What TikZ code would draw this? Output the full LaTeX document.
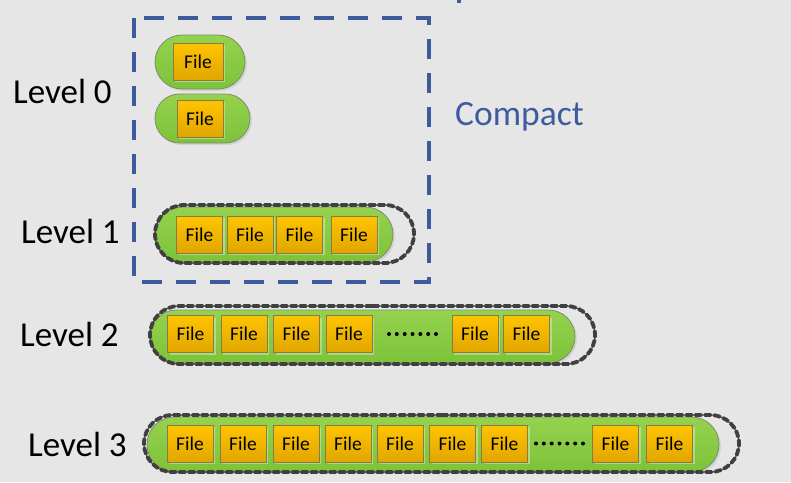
\documentclass[tikz,border=0pt]{standalone}
\usepackage{fontspec}
\setmainfont{Carlito}
\usetikzlibrary{shapes.misc,shadows}
\definecolor{bg}{HTML}{E6E6E6}
\definecolor{greentop}{HTML}{95D24E}
\definecolor{greenbot}{HTML}{7DC23A}
\definecolor{greenedge}{HTML}{7E8C6E}
\definecolor{filetop}{HTML}{FFC400}
\definecolor{filebot}{HTML}{E0A600}
\definecolor{fileedge}{HTML}{8A7A45}
\definecolor{darkdash}{HTML}{404040}
\definecolor{compactblue}{HTML}{3D5C9E}
\tikzset{
  pill/.style={rounded rectangle, inner sep=0pt, top color=greentop, bottom color=greenbot, draw=greenedge, line width=0.8pt,
    drop shadow={shadow xshift=2pt, shadow yshift=-2pt, fill=black, opacity=0.08}},
  runoutline/.style={rounded rectangle, inner sep=0pt, draw=darkdash, line width=3.8pt, dash pattern=on 6pt off 3.4pt, line cap=round},
  filebox/.style={rectangle, inner sep=0pt, minimum width=46pt, minimum height=37pt, top color=filetop, bottom color=filebot,
    draw=fileedge, line width=0.8pt, font=\fontsize{19.5}{22}\selectfont,
    drop shadow={shadow xshift=2pt, shadow yshift=-2pt, fill=white, opacity=0.35}},
  lvl/.style={anchor=base west, inner sep=0pt, font=\fontsize{35}{40}\selectfont},
  dotrow/.style={circle, fill=black, inner sep=0pt, minimum size=4pt},
}
\begin{document}
\begin{tikzpicture}[x=1pt,y=-1pt]
\fill[bg] (0,0) rectangle (791,482);
\useasboundingbox (0,0) rectangle (791,482);

% small cut-off mark at the top
\fill[compactblue] (457,0) rectangle (461,2.5);

% compaction frame
\draw[compactblue, line width=4.5pt, dash pattern=on 20pt off 14pt] (134,18) rectangle (429,282);
\node[anchor=base west, inner sep=0pt, text=compactblue, font=\fontsize{35.5}{40}\selectfont] (compact) at (455,125) {Compact};

% labels
\node[lvl] (l0) at (13,103) {Level 0};
\node[lvl] (l1) at (21,243) {Level 1};
\node[lvl] (l2) at (20,346) {Level 2};
\node[lvl] (l3) at (28,456) {Level 3};

% Level 0
\node[pill, minimum width=90pt, minimum height=54pt] (p0a) at (200,62) {};
\node[filebox, minimum width=50pt] (f0a) at (198,61.5) {File};
\node[pill, minimum width=95pt, minimum height=49pt] (p0b) at (202.5,118.5) {};
\node[filebox] (f0b) at (200,118.5) {File};

% Level 1
\node[pill, minimum width=238pt, minimum height=55pt] (p1) at (274,234.5) {};
\node[runoutline, minimum width=259pt, minimum height=58pt] (o1) at (284.5,234) {};
\foreach \x [count=\i] in {199.5,250,299.5,354}
  \node[filebox] (f1\i) at (\x,234.5) {File};

% Level 2
\node[pill, minimum width=425pt, minimum height=53pt] (p2) at (362.5,336.5) {};
\node[runoutline, minimum width=445pt, minimum height=58pt] (o2) at (372.5,335) {};
\foreach \x [count=\i] in {190.5,244,296.5,349,475,526.5}
  \node[filebox] (f2\i) at (\x,334) {File};
\foreach \x [count=\i] in {389,396.8,404.7,412.5,420.3,428.2,436}
  \node[dotrow] (d2\i) at (\x,334) {};

% Level 3
\node[pill, minimum width=572pt, minimum height=55pt] (p3) at (433,444.5) {};
\node[runoutline, minimum width=595pt, minimum height=57pt] (o3) at (441.5,443.5) {};
\foreach \x [count=\i] in {190,243,296,348,400,452.5,504.5,615.5,669.5}
  \node[filebox] (f3\i) at (\x,443.5) {File};
\foreach \x [count=\i] in {536,543.8,551.7,559.5,567.3,575.2,583}
  \node[dotrow] (d3\i) at (\x,443.5) {};
\end{tikzpicture}
\end{document}
